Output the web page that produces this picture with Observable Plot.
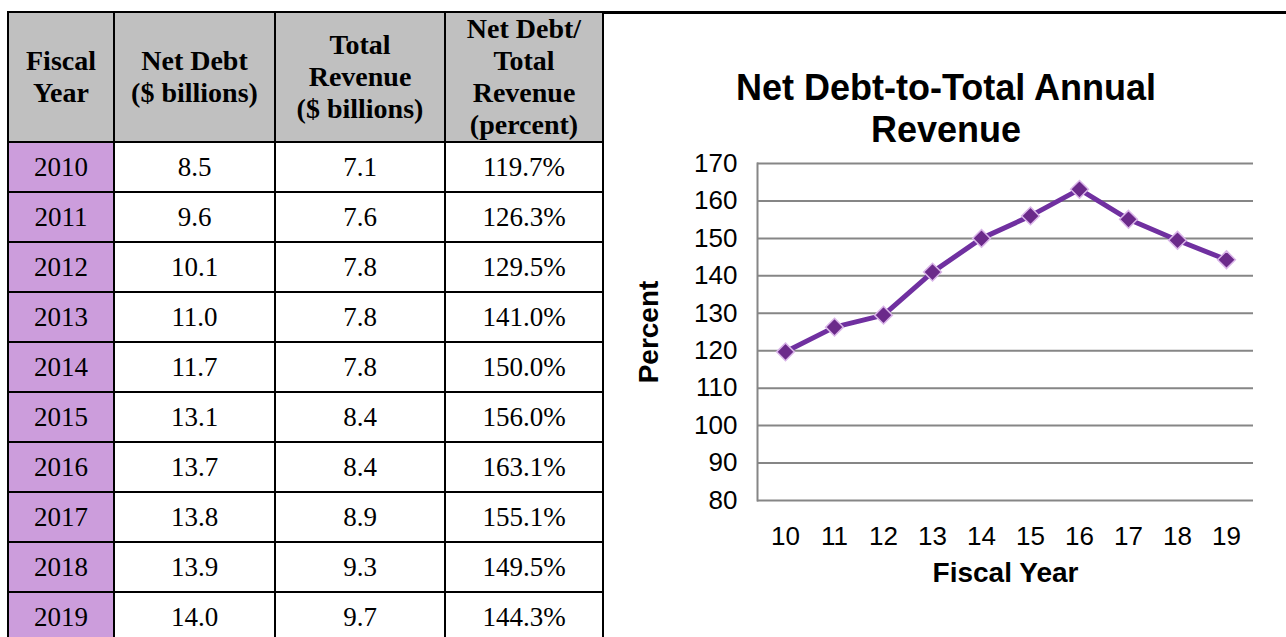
<!DOCTYPE html>
<html>
<head>
<meta charset="utf-8">
<script src="https://cdn.jsdelivr.net/npm/d3@7"></script>
<script src="https://cdn.jsdelivr.net/npm/@observablehq/plot@0.6"></script>
<style>
  html, body { margin: 0; padding: 0; background: #fff; width: 1286px; height: 637px; overflow: hidden; position: relative; }
  #topline { position: absolute; left: 7px; right: 0; top: 11px; height: 3px; background: #000; }
  table { position: absolute; left: 7px; top: 11px; border-collapse: collapse; table-layout: fixed;
          font-family: "Liberation Serif", "Times New Roman", serif; color: #000; }
  td, th { border: 2px solid #000; text-align: center; vertical-align: middle; padding: 0; }
  th { background: #c0c0c0; font-weight: bold; font-size: 28px; line-height: 32px; height: 125px; }
  td { font-size: 27px; height: 48px; }
  td.yr { background: #cc9ddc; }
  #title { position: absolute; left: 605px; width: 682px; top: 67px; text-align: center;
           font-family: "Liberation Sans", Arial, sans-serif; font-weight: bold; font-size: 36px; line-height: 42px; color: #000; }
  #chart { position: absolute; left: 605px; top: 14px; }
</style>
</head>
<body>
<div id="topline"></div>
<table id="tbl"></table>
<div id="title">Net Debt-to-Total Annual<br>Revenue</div>
<div id="chart"></div>
<script>
const fiscalYears = [2010, 2011, 2012, 2013, 2014, 2015, 2016, 2017, 2018, 2019];
const netDebt = ["8.5", "9.6", "10.1", "11.0", "11.7", "13.1", "13.7", "13.8", "13.9", "14.0"];
const totalRevenue = ["7.1", "7.6", "7.8", "7.8", "7.8", "8.4", "8.4", "8.9", "9.3", "9.7"];
const debtRatio = [119.7, 126.3, 129.5, 141.0, 150.0, 156.0, 163.1, 155.1, 149.5, 144.3];
const xTickLabels = ["10", "11", "12", "13", "14", "15", "16", "17", "18", "19"];
const yTicks = [80, 90, 100, 110, 120, 130, 140, 150, 160, 170];
const headers = [["Fiscal", "Year"], ["Net Debt", "($ billions)"], ["Total", "Revenue", "($ billions)"], ["Net Debt/", "Total", "Revenue", "(percent)"]];
const colWidths = [106, 161, 170, 158];

// table
const tbl = document.getElementById("tbl");
const cg = document.createElement("colgroup");
colWidths.forEach(w => { const c = document.createElement("col"); c.style.width = w + "px"; cg.appendChild(c); });
tbl.appendChild(cg);
const hr = document.createElement("tr");
headers.forEach(h => { const th = document.createElement("th"); th.innerHTML = h.join("<br>"); hr.appendChild(th); });
tbl.appendChild(hr);
fiscalYears.forEach((y, i) => {
  const tr = document.createElement("tr");
  const cells = [String(y), netDebt[i], totalRevenue[i], debtRatio[i].toFixed(1) + "%"];
  cells.forEach((v, j) => { const td = document.createElement("td"); td.textContent = v; if (j === 0) td.className = "yr"; tr.appendChild(td); });
  tbl.appendChild(tr);
});

// chart
const data = xTickLabels.map((k, i) => ({ year: k, pct: debtRatio[i] }));
const chart = Plot.plot({
  width: 681,
  height: 600,
  marginLeft: 152,
  marginRight: 33,
  marginTop: 149,
  marginBottom: 114,
  style: { fontFamily: "'Liberation Sans', Arial, sans-serif", fontSize: "26px", color: "#000", background: "transparent", overflow: "visible" },
  x: { type: "point", domain: xTickLabels, padding: 0.5, label: null },
  y: { domain: [80, 170], label: null },
  marks: [
    Plot.gridY(yTicks, { stroke: "#868686", strokeOpacity: 1, strokeWidth: 2 }),
    Plot.frame({ anchor: "left", stroke: "#868686", strokeWidth: 2 }),
    Plot.axisY(yTicks, { tickSize: 0, tickPadding: 20, label: null, fill: "#000" }),
    Plot.axisX({ tickSize: 0, tickPadding: 26, label: null, fill: "#000" }),
    Plot.line(data, { x: "year", y: "pct", stroke: "#7030a0", strokeWidth: 5 }),
    Plot.dot(data, { x: "year", y: "pct", symbol: "diamond2", r: 8, fill: "#6b2a8a", stroke: "#d9b5e8", strokeWidth: 1.5 }),
    Plot.text(["Percent"], { frameAnchor: "left", textAnchor: "middle", dx: -108, rotate: -90, fontWeight: "bold", fontSize: 28, fill: "#000" }),
    Plot.text(["Fiscal Year"], { frameAnchor: "bottom", dy: 81, fontWeight: "bold", fontSize: 28, fill: "#000" })
  ]
});
document.getElementById("chart").appendChild(chart);
</script>
</body>
</html>
